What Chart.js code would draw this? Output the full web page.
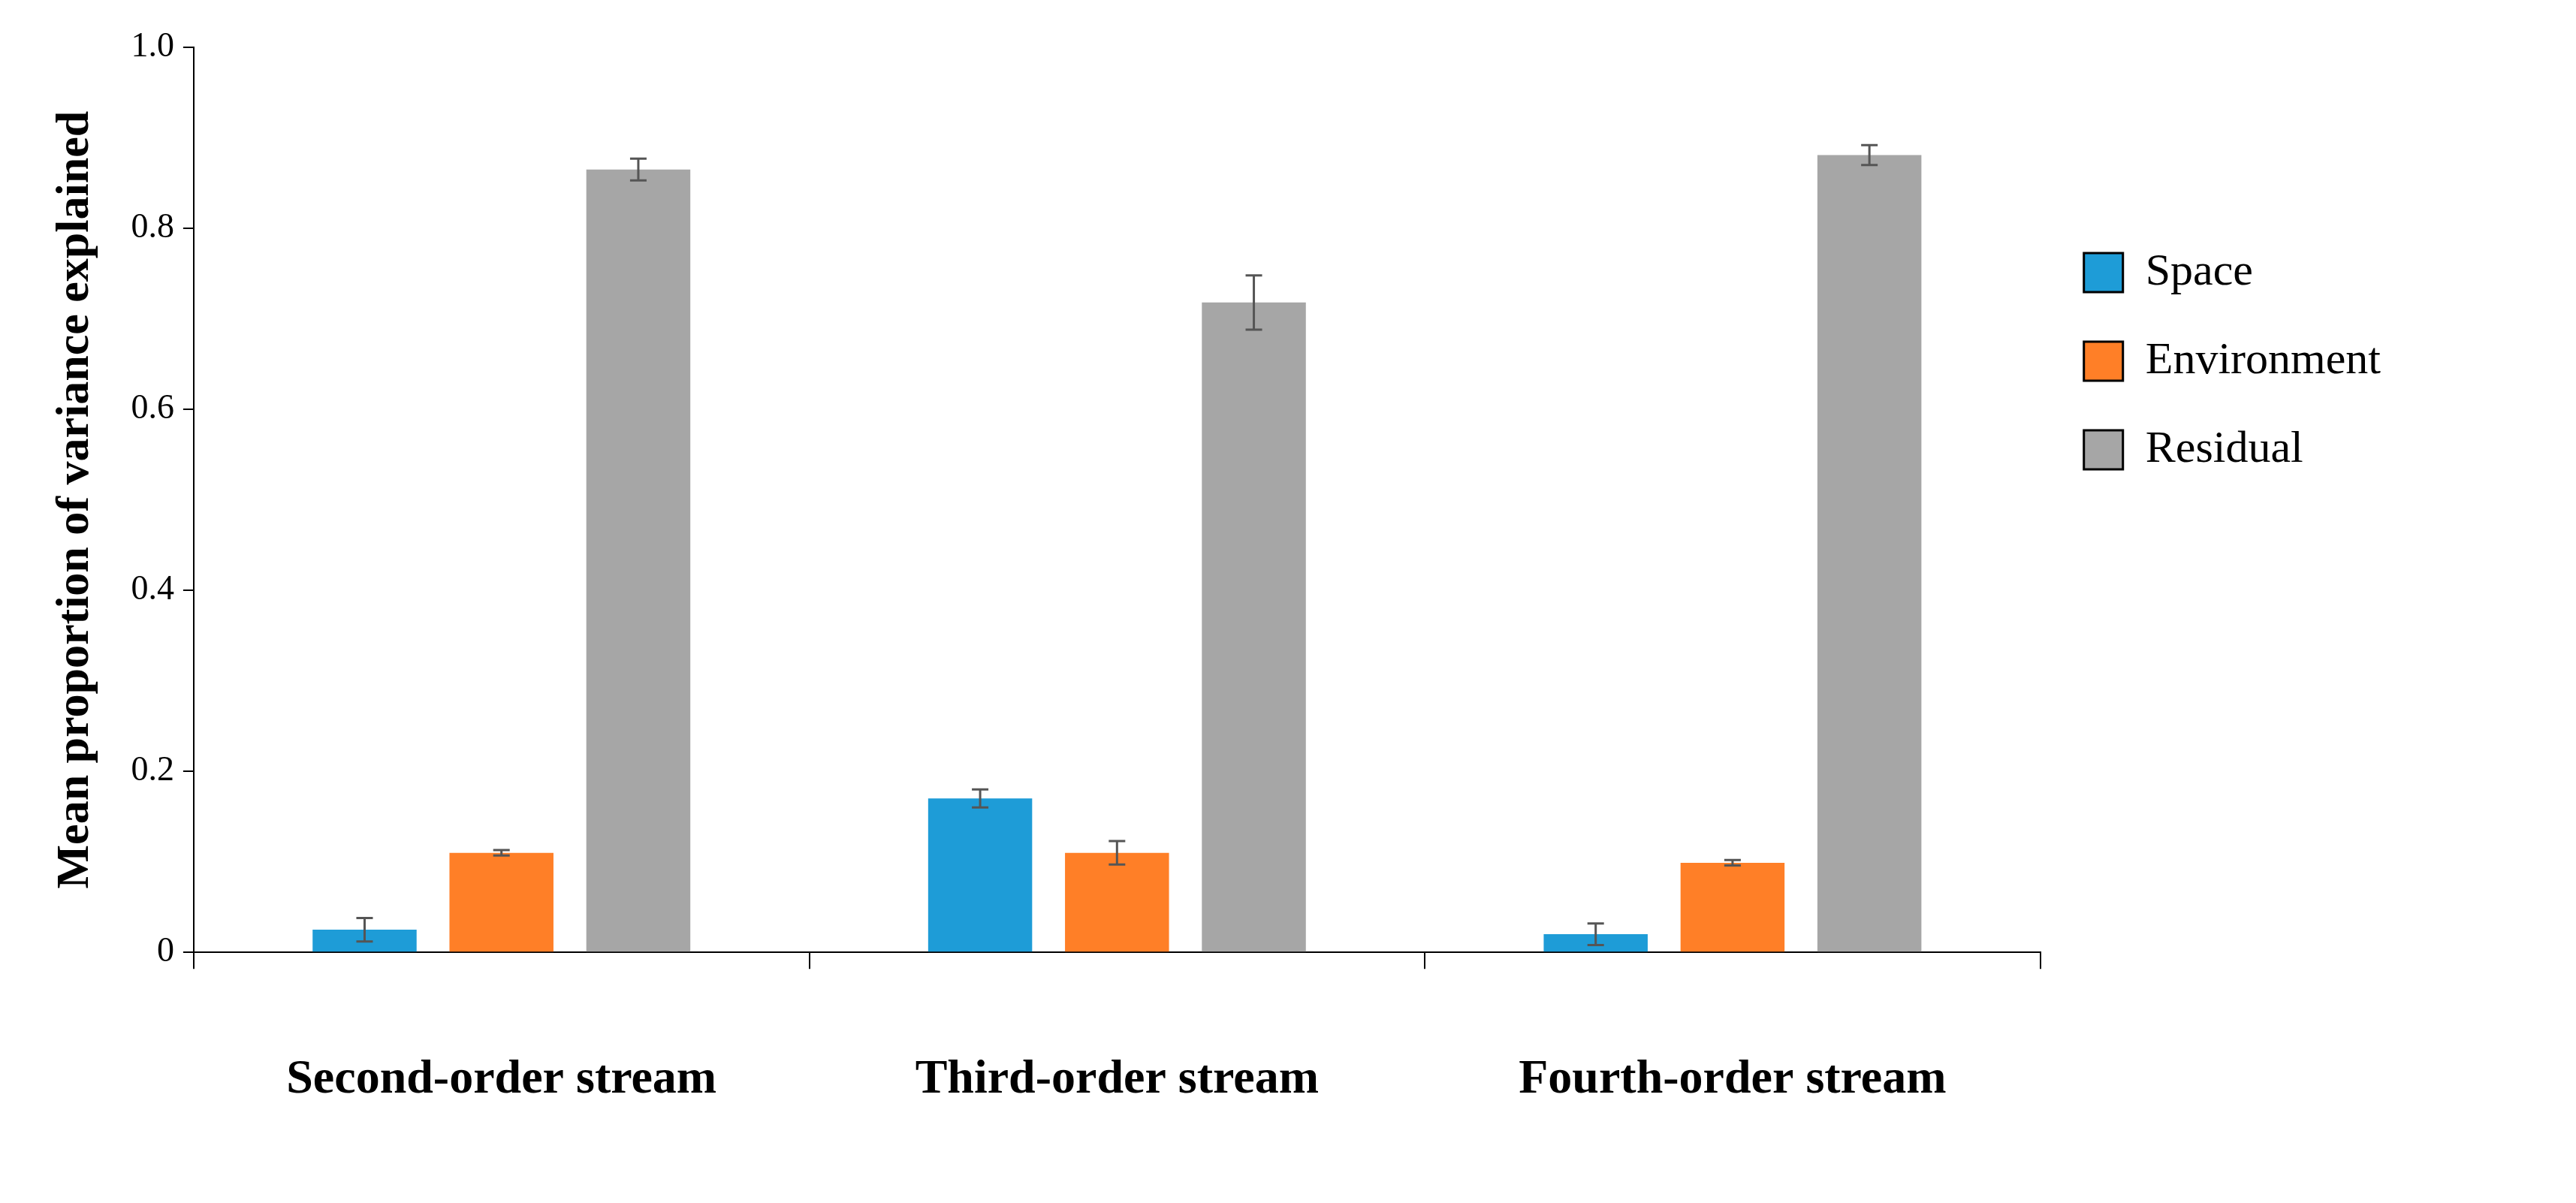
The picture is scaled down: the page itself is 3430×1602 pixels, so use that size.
<!DOCTYPE html>
<html>
<head>
<meta charset="utf-8">
<script src="https://cdn.jsdelivr.net/npm/chart.js@4.4.0/dist/chart.umd.min.js"></script>
<style>
  html, body { margin: 0; padding: 0; background: #fff; }
  #wrap { width: 3430px; height: 1602px; }
</style>
</head>
<body>
<div id="wrap"><canvas id="chart" width="3430" height="1602"></canvas></div>
<script>
// === DATA ===
const categories = ['Second-order stream', 'Third-order stream', 'Fourth-order stream'];
const seriesNames = ['Space', 'Environment', 'Residual'];
const seriesColors = ['#1E9CD7', '#FF7F27', '#A6A6A6'];
const spaceValues = [0.025, 0.170, 0.020];
const envValues = [0.110, 0.110, 0.099];
const residualValues = [0.865, 0.718, 0.881];
const spaceErrors = [0.013, 0.010, 0.012];
const envErrors = [0.003, 0.013, 0.003];
const residualErrors = [0.012, 0.030, 0.011];

const values = [spaceValues, envValues, residualValues];
const errors = [spaceErrors, envErrors, residualErrors];

// Error bars drawn through the y scale
const errorBarPlugin = {
  id: 'errorBars',
  afterDatasetsDraw(chart) {
    const ctx = chart.ctx;
    const y = chart.scales.y;
    ctx.save();
    ctx.strokeStyle = '#555';
    ctx.lineWidth = 3;
    chart.data.datasets.forEach((ds, i) => {
      chart.getDatasetMeta(i).data.forEach((bar, j) => {
        const v = ds.data[j], e = errors[i][j];
        const top = y.getPixelForValue(v + e);
        const bot = y.getPixelForValue(v - e);
        const cap = 11;
        ctx.beginPath();
        ctx.moveTo(bar.x, top); ctx.lineTo(bar.x, bot);
        ctx.moveTo(bar.x - cap, top); ctx.lineTo(bar.x + cap, top);
        ctx.moveTo(bar.x - cap, bot); ctx.lineTo(bar.x + cap, bot);
        ctx.stroke();
      });
    });
    ctx.restore();
  }
};

Chart.defaults.font.family = '"Liberation Serif", "Times New Roman", serif';
Chart.defaults.color = '#000';

new Chart(document.getElementById('chart').getContext('2d'), {
  type: 'bar',
  data: {
    labels: categories,
    datasets: seriesNames.map((name, i) => ({
      label: name,
      data: values[i],
      backgroundColor: seriesColors[i],
      borderWidth: 0,
      categoryPercentage: 0.667,
      barPercentage: 0.76
    }))
  },
  options: {
    responsive: false,
    devicePixelRatio: 1,
    animation: false,
    layout: { padding: { top: 63, right: 250, bottom: 15, left: 40 } },
    plugins: {
      tooltip: { enabled: false },
      legend: {
        position: 'right',
        align: 'start',
        title: { display: true, text: ' ', font: { size: 10 }, padding: { top: 200, bottom: 0 } },
        labels: {
          font: { size: 60 },
          boxWidth: 52,
          boxHeight: 52,
          padding: 58,
          generateLabels: (chart) => chart.data.datasets.map((ds, i) => ({
            text: ds.label,
            fillStyle: seriesColors[i],
            strokeStyle: '#000',
            lineWidth: 3,
            datasetIndex: i
          }))
        }
      }
    },
    scales: {
      x: {
        offset: true,
        grid: { display: true, offset: true, drawOnChartArea: false, tickLength: 22, color: '#000', lineWidth: 2 },
        border: { color: '#000', width: 2 },
        ticks: { font: { size: 64, weight: 'bold' }, padding: 110 }
      },
      y: {
        min: 0,
        max: 1,
        grid: { drawOnChartArea: false, tickLength: 14, color: '#000', lineWidth: 2 },
        border: { color: '#000', width: 2 },
        ticks: {
          stepSize: 0.2,
          font: { size: 46 },
          padding: 12,
          callback: (v) => v === 0 ? '0' : (v === 1 ? '1.0' : v.toFixed(1))
        },
        title: { display: true, text: 'Mean proportion of variance explained', font: { size: 62, weight: 'bold' }, padding: 24 }
      }
    }
  },
  plugins: [errorBarPlugin]
});
</script>
</body>
</html>
